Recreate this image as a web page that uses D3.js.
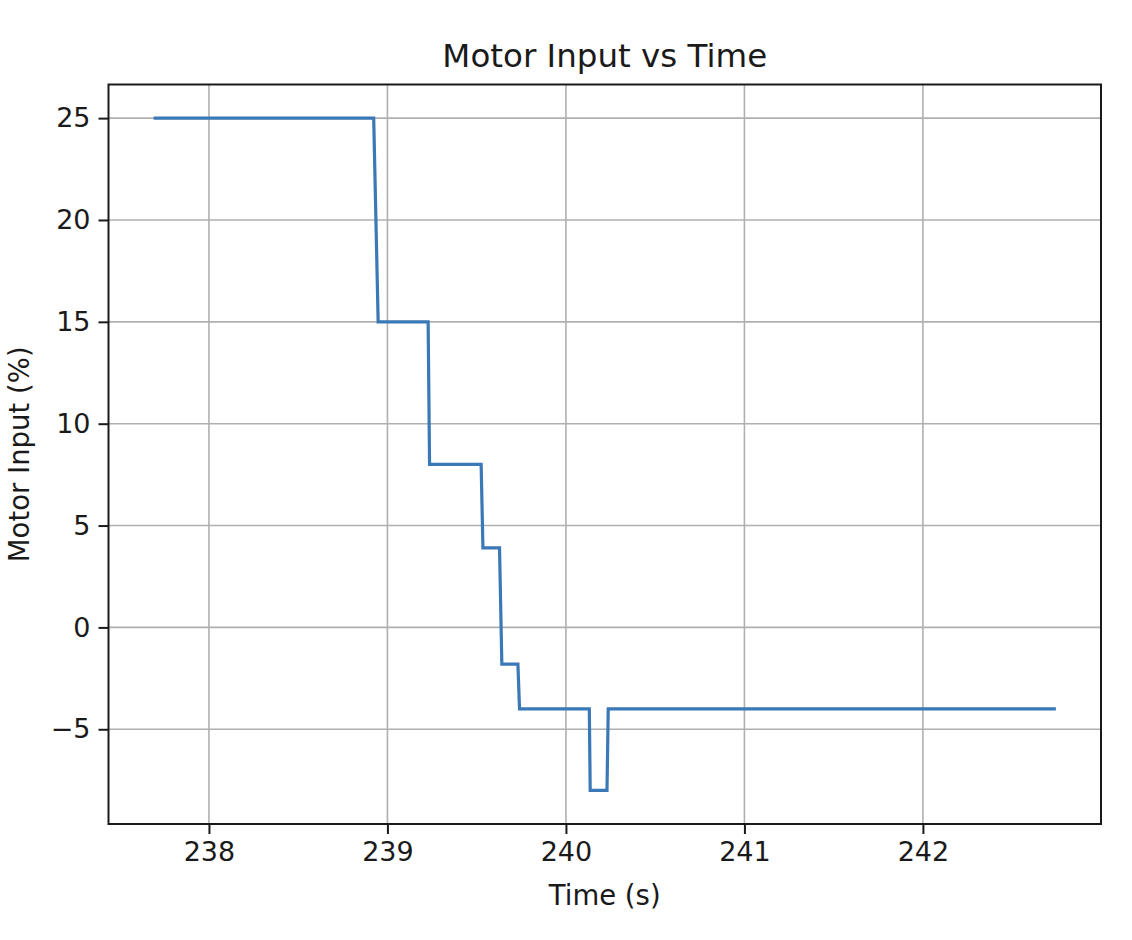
<!DOCTYPE html>
<html>
<head>
	<title>Motor Input vs Time</title>
	<script type="text/javascript" src="https://d3js.org/d3.v7.min.js"></script>
	<style>
		body { margin: 0; background: white; }
		text { font-family: 'DejaVu Sans', sans-serif; fill: #1a1a1a; }
	</style>
</head>
<body>

<div id='plot'></div>

<script type="text/javascript">

// motor input samples
var time_s = [237.69, 238.923, 238.948, 239.228, 239.236, 239.525, 239.535, 239.628, 239.641,
	239.731, 239.740, 240.131, 240.136, 240.230, 240.237, 242.745];
var motor_pct = [25, 25, 15, 15, 8, 8, 3.9, 3.9, -1.8, -1.8, -4, -4, -8, -8, -4, -4];

var x_ticks = [238, 239, 240, 241, 242];
var y_ticks = [-5, 0, 5, 10, 15, 20, 25];

var width = 1132,
	height = 940;

var left = 108.5,
	right = 1101,
	top_ = 84.5,
	bottom = 824;

var data = time_s.map(function(t, i){ return {t: t, v: motor_pct[i]}; });

// matplotlib style 5% margins
function pad(ext){
	var m = (ext[1] - ext[0]) * 0.05;
	return [ext[0] - m, ext[1] + m];
}

var x = d3.scaleLinear().domain(pad(d3.extent(time_s))).range([left, right]);
var y = d3.scaleLinear().domain(pad(d3.extent(motor_pct))).range([bottom, top_]);

var svg = d3.select('#plot').append('svg')
	.attr('width', width)
	.attr('height', height);

svg.append('rect')
	.attr('width', width)
	.attr('height', height)
	.style('fill', 'white');

// grid
svg.selectAll('.xgrid').data(x_ticks)
	.enter().append('line').classed('xgrid', true)
		.attr('x1', function(d){ return x(d); })
		.attr('x2', function(d){ return x(d); })
		.attr('y1', top_)
		.attr('y2', bottom)
		.style('stroke', '#b0b0b0')
		.style('stroke-width', 1.6);

svg.selectAll('.ygrid').data(y_ticks)
	.enter().append('line').classed('ygrid', true)
		.attr('x1', left)
		.attr('x2', right)
		.attr('y1', function(d){ return y(d); })
		.attr('y2', function(d){ return y(d); })
		.style('stroke', '#b0b0b0')
		.style('stroke-width', 1.6);

// series
var line = d3.line()
	.x(function(d){ return x(d.t); })
	.y(function(d){ return y(d.v); });

svg.append('path')
	.datum(data)
	.attr('d', line)
	.style('fill', 'none')
	.style('stroke', '#3a78b6')
	.style('stroke-width', 3.2)
	.style('stroke-linejoin', 'miter')
	.style('stroke-linecap', 'butt');

// axes
var xAxis = d3.axisBottom(x)
	.tickValues(x_ticks)
	.tickSize(10)
	.tickPadding(8)
	.tickFormat(d3.format('d'));

var yAxis = d3.axisLeft(y)
	.tickValues(y_ticks)
	.tickSize(10)
	.tickPadding(8)
	.tickFormat(function(d){ return d < 0 ? '\u2212' + Math.abs(d) : d; });

var gx = svg.append('g')
	.attr('transform', 'translate(0,' + bottom + ')')
	.call(xAxis);

var gy = svg.append('g')
	.attr('transform', 'translate(' + left + ',0)')
	.call(yAxis);

[gx, gy].forEach(function(g){
	g.select('.domain').remove();
	g.selectAll('.tick line').style('stroke', '#1a1a1a').style('stroke-width', 2);
	g.selectAll('.tick text')
		.style('font-family', "'DejaVu Sans', sans-serif")
		.style('font-size', '27px')
		.style('fill', '#1a1a1a');
});

// frame
svg.append('rect')
	.attr('x', left)
	.attr('y', top_)
	.attr('width', right - left)
	.attr('height', bottom - top_)
	.style('fill', 'none')
	.style('stroke', '#1a1a1a')
	.style('stroke-width', 2);

// labels
svg.append('text')
	.attr('x', (left + right) / 2)
	.attr('y', 67)
	.attr('text-anchor', 'middle')
	.style('font-size', '32.5px')
	.text('Motor Input vs Time');

svg.append('text')
	.attr('x', (left + right) / 2)
	.attr('y', 905)
	.attr('text-anchor', 'middle')
	.style('font-size', '27.5px')
	.text('Time (s)');

svg.append('text')
	.attr('transform', 'translate(29,' + ((top_ + bottom) / 2) + ') rotate(-90)')
	.attr('text-anchor', 'middle')
	.style('font-size', '27.5px')
	.text('Motor Input (%)');

</script>

</body>
</html>
